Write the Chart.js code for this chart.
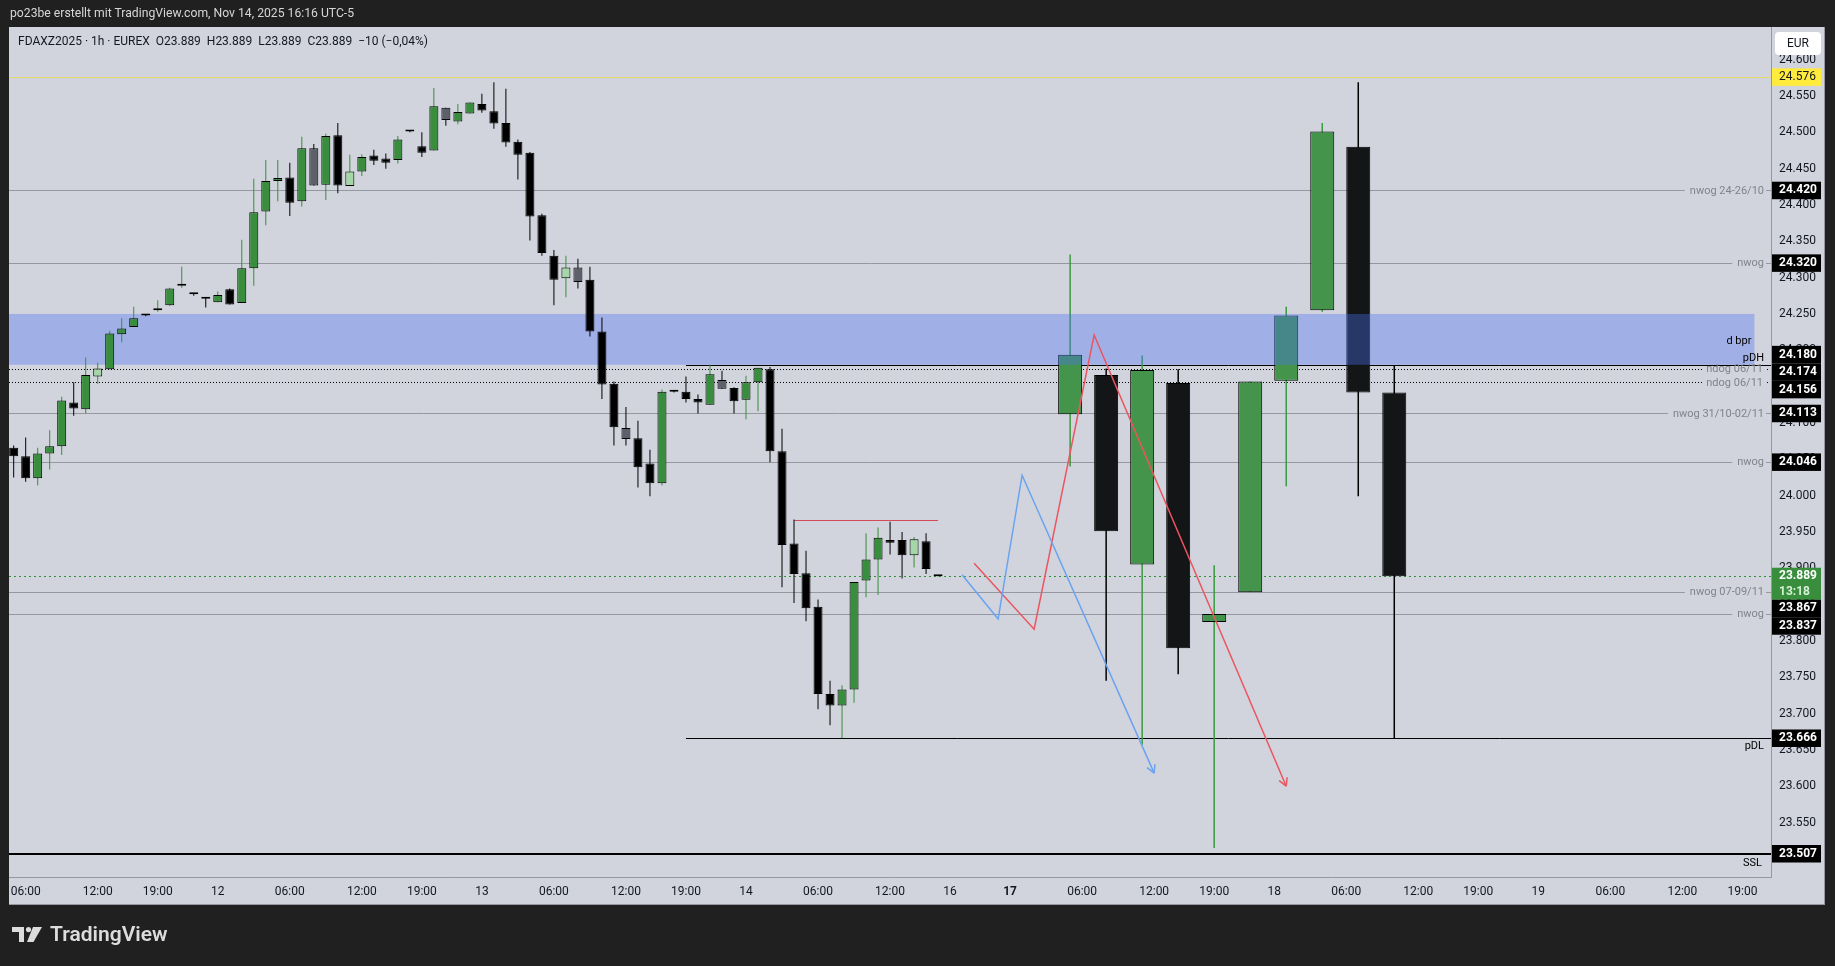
<!DOCTYPE html>
<html>
<head>
<meta charset="utf-8">
<title>FDAXZ2025 1h</title>
<script src="https://cdn.jsdelivr.net/npm/chart.js@4.4.1/dist/chart.umd.min.js"></script>
<style>
  html, body { margin: 0; padding: 0; background: #202020; overflow: hidden; }
  #box { position: relative; width: 1835px; height: 966px; }
  #chart { position: absolute; left: 0; top: 0; }
  .txt { position: absolute; white-space: pre; font-family: Roboto, sans-serif; }
  #title { left: 10px; top: 6px; font-size: 12.2px; color: #d6d6d6; }
  #legend { left: 18px; top: 34px; font-size: 12px; color: #131722; }
  #logo { left: 12px; top: 922px; font-size: 21px; font-weight: 600; color: #dcdcdc; display: flex; align-items: center; }
  #logo svg { margin-right: 8px; }
</style>
</head>
<body>
<div id="box">
  <canvas id="chart" width="1835" height="966"></canvas>
  <div class="txt" id="title">po23be erstellt mit TradingView.com, Nov 14, 2025 16:16 UTC-5</div>
  <div class="txt" id="legend">FDAXZ2025 · 1h · EUREX  O23.889  H23.889  L23.889  C23.889  −10 (−0,04%)</div>
  <div class="txt" id="logo"><svg width="30" height="15" viewBox="0 0 30 15"><path d="M0 0H12V15H7V5H0Z" fill="#dcdcdc"/><circle cx="16.5" cy="2.6" r="2.6" fill="#dcdcdc"/><path d="M21 0H30L21.5 15H15Z" fill="#dcdcdc"/></svg>TradingView</div>
</div>
<script>
// hourly bars (UTC-5), bar 0 = Nov 11 06:00, 22 bars per session
const firstBar = -1;
const opens  = [24066,24054,24024,24058,24068,24128,24119,24164,24174,24222,24232,24248,24255,24262,24289,24277,24271,24266,24284,24265,
                24313,24391,24433,24438,24405,24478,24428,24496,24426,24446,24468,24464,24462,24501,24481,24475,24534,24515,24526,24539,
                24529,24513,24487,24472,24386,24330,24299,24314,24297,24226,24154,24093,24079,24044,24017,24143,24143,24133,24125,24159,
                24148,24132,24156,24174,24061,23934,23893,23847,23727,23711,23733,23883,23912,23939,23939,23918,23937,23889];
const highs  = [24069,24080,24066,24090,24136,24156,24190,24183,24227,24244,24260,24249,24269,24286,24315,24278,24272,24281,24285,24352,
                24436,24462,24462,24458,24494,24484,24498,24513,24469,24470,24476,24471,24495,24502,24500,24561,24534,24539,24541,24553,
                24569,24560,24490,24473,24388,24338,24330,24326,24315,24245,24157,24122,24103,24063,24146,24144,24164,24139,24180,24172,
                24149,24165,24176,24177,24092,23967,23924,23857,23745,23739,23881,23948,23956,23964,23950,23943,23948,23889];
const lows   = [24025,24019,24014,24036,24056,24110,24113,24154,24174,24211,24232,24247,24253,24261,24286,24275,24259,24266,24263,24265,
                24289,24372,24405,24385,24398,24427,24407,24416,24426,24440,24455,24450,24457,24500,24466,24475,24509,24511,24526,24527,
                24505,24480,24435,24351,24330,24262,24273,24285,24219,24133,24069,24069,24011,23999,24014,24142,24128,24113,24125,24147,
                24113,24105,24116,24046,23874,23852,23827,23706,23684,23666,23715,23860,23863,23919,23886,23901,23892,23889];
const closes = [24054,24024,24058,24068,24131,24120,24166,24175,24223,24230,24244,24248,24258,24285,24290,24277,24271,24276,24263,24313,
                24390,24433,24437,24403,24478,24427,24495,24427,24446,24466,24461,24458,24490,24501,24472,24536,24517,24528,24541,24530,
                24512,24486,24469,24384,24334,24297,24314,24294,24226,24153,24094,24078,24039,24017,24143,24143,24133,24128,24167,24147,
                24130,24156,24176,24061,23932,23892,23845,23727,23711,23733,23881,23912,23942,23935,23918,23940,23899,23889];
// inside bars highlighted by the indicator
const lightInside = [6, 27, 45, 74];
const grayInside  = [24, 35, 46, 50, 58];

// projected higher-timeframe candles on the right
const htfBar   = [87, 90, 93, 96, 99, 102, 105, 108, 111, 114];
const htfOpen  = [24112, 24166, 23905, 24155, 23826, 23867, 24158, 24255, 24480, 24142];
const htfHigh  = [24332, 24175, 24193, 24174, 23904, 24157, 24260, 24513, 24569, 24179];
const htfLow   = [24040, 23745, 23657, 23754, 23515, 23867, 24013, 24253, 23999, 23666];
const htfClose = [24194, 23951, 24173, 23790, 23837, 24157, 24248, 24501, 24142, 23889];

// time axis
const tickBars = [0, 6, 11, 16, 22, 28, 33, 38, 44, 50, 55, 60, 66, 72, 77, 82, 88, 94, 99, 104, 110, 116, 121, 126, 132, 138, 143];
const tickText = ['06:00','12:00','19:00','12','06:00','12:00','19:00','13','06:00','12:00','19:00','14','06:00','12:00',
                  '16','17','06:00','12:00','19:00','18','06:00','12:00','19:00','19','06:00','12:00','19:00'];

// levels
const gapLevels = [24420, 24320, 24113, 24046, 23867, 23837];
const gapNames  = ['nwog 24-26/10', 'nwog', 'nwog 31/10-02/11', 'nwog', 'nwog 07-09/11', 'nwog'];
const ndogLevels = [24174, 24156];
const ndogNames  = ['ndog 06/11', 'ndog 06/11'];
const pdh = 24180, pdl = 23666, prevDayFrom = 55;
const ssl = 23507;
const markLevel = 24576;
const bprZone = [24180, 24250], bprEnd = 144;
const rangeHigh = 23966, rangeFrom = 64, rangeTo = 76;
const lastPrice = 23889, countdown = '13:18';

// drawn paths
const blueX = [78, 81, 83, 94];
const blueY = [23891, 23830, 24028, 23618];
const redX  = [79, 84, 89, 105];
const redY  = [23907, 23816, 24221, 23600];

const GREEN = '#388e3c';
const bars = opens.map((o, i) => i + firstBar);
const bodyCol = opens.map((o, i) => {
  if (lightInside.includes(bars[i])) return '#a5d6a7';
  if (grayInside.includes(bars[i])) return '#5d606b';
  return closes[i] > o ? GREEN : '#000';
});
const wickCol = opens.map((o, i) => (closes[i] > o || lightInside.includes(bars[i])) ? GREEN : '#000');
const htfBody = htfOpen.map((o, i) => htfClose[i] > o ? '#45944c' : '#141517');
const htfWick = htfOpen.map((o, i) => htfClose[i] > o ? '#3a9a40' : '#000');

const pairs = (xs, a, b) => xs.map((x, i) => ({x: x, y: [a[i], b[i]]}));
const points = (xs, ys) => xs.map((x, i) => ({x: x, y: ys[i]}));
const fmt = v => (v / 1000).toFixed(3);

const px = (c, v) => c.scales.x.getPixelForValue(v);
const py = (c, v) => c.scales.y.getPixelForValue(v);

function hLine(ctx, x1, x2, y, color, width, dash) {
  ctx.save();
  ctx.strokeStyle = color;
  ctx.lineWidth = width;
  ctx.setLineDash(dash || []);
  const yy = Math.round(y) + (width % 2 ? 0.5 : 0);
  ctx.beginPath();
  ctx.moveTo(x1, yy);
  ctx.lineTo(x2, yy);
  ctx.stroke();
  ctx.restore();
}

function layoutTags(tags) {
  tags.sort((a, b) => a.c - b.c);
  for (let it = 0; it < 200; it++) {
    let moved = false;
    for (let i = 1; i < tags.length; i++) {
      const a = tags[i - 1], b = tags[i];
      const need = (a.h + b.h) / 2 - (b.c - a.c);
      if (need > 0.01) {
        moved = true;
        if (a.fixed) b.c += need;
        else if (b.fixed) a.c -= need;
        else { a.c -= need / 2; b.c += need / 2; }
      }
    }
    if (!moved) break;
  }
}

const overlay = {
  id: 'overlay',
  beforeDraw(c) {
    const ctx = c.ctx;
    ctx.save();
    ctx.fillStyle = '#d1d4dc';
    ctx.fillRect(9, 27, 1816, 878);
    ctx.strokeStyle = '#9598a1';
    ctx.lineWidth = 1;
    ctx.beginPath();
    ctx.moveTo(9, 904.5); ctx.lineTo(1825, 904.5);
    ctx.moveTo(1824.5, 27); ctx.lineTo(1824.5, 905);
    ctx.stroke();
    ctx.restore();
  },
  beforeDatasetsDraw(c) {
    const ctx = c.ctx, a = c.chartArea;
    const tr = a.right - 7;
    ctx.save();
    ctx.beginPath();
    ctx.rect(a.left, a.top, a.right - a.left, a.bottom - a.top);
    ctx.clip();
    ctx.font = '11px Roboto';
    hLine(ctx, a.left, a.right, py(c, markLevel), '#e3da6a', 1);
    gapLevels.forEach((v, i) => {
      const y = py(c, v), w = ctx.measureText(gapNames[i]).width;
      hLine(ctx, a.left, tr - w - 5, y, '#9598a1', 1);
      hLine(ctx, tr + 2, a.right, y, '#9598a1', 1);
    });
    ndogLevels.forEach((v, i) => {
      const y = py(c, v), w = ctx.measureText(ndogNames[i]).width;
      hLine(ctx, a.left, tr - w - 5, y, '#000', 1, [1, 2]);
      hLine(ctx, tr + 3, tr + 4, y, '#000', 1);
    });
    hLine(ctx, px(c, prevDayFrom), a.right, py(c, pdh), '#000', 1);
    hLine(ctx, px(c, prevDayFrom), a.right, py(c, pdl), '#000', 1);
    hLine(ctx, a.left, a.right, py(c, ssl), '#000', 2);
    hLine(ctx, px(c, rangeFrom), px(c, rangeTo), py(c, rangeHigh), '#d24b57', 1);
    hLine(ctx, a.left, a.right, py(c, lastPrice), GREEN, 1, [2, 3]);
    ctx.restore();
  },
  afterDatasetDraw(c, args) {
    if (c.data.datasets[args.index].label !== 'htfBody') return;
    const ctx = c.ctx, a = c.chartArea;
    const y1 = py(c, bprZone[1]), y2 = py(c, bprZone[0]), xr = px(c, bprEnd);
    ctx.save();
    ctx.fillStyle = 'rgba(74,115,246,0.366)';
    ctx.fillRect(a.left, y1, xr - a.left, y2 - y1);
    ctx.restore();
  },
  afterDatasetsDraw(c) {
    const ctx = c.ctx, a = c.chartArea;
    const tr = a.right - 7;
    ctx.save();
    ctx.font = '11px Roboto';
    ctx.textAlign = 'right';
    ctx.textBaseline = 'middle';
    ctx.fillStyle = '#80838c';
    gapLevels.forEach((v, i) => ctx.fillText(gapNames[i], tr, py(c, v) + 0.5));
    ndogLevels.forEach((v, i) => ctx.fillText(ndogNames[i], tr - 1, py(c, v) + 0.5));
    ctx.fillStyle = '#000';
    ctx.fillText('d bpr', px(c, bprEnd) - 3, (py(c, bprZone[0]) + py(c, bprZone[1])) / 2 + 2);
    ctx.textBaseline = 'bottom';
    ctx.fillText('pDH', tr, py(c, pdh) - 1);
    ctx.textBaseline = 'top';
    ctx.fillText('pDL', tr, py(c, pdl) + 3);
    ctx.fillText('SSL', tr - 2, py(c, ssl) + 4);

    // arrow heads at the ends of the drawn paths
    c.data.datasets.forEach((ds, i) => {
      if (ds.type !== 'line') return;
      const pts = c.getDatasetMeta(i).data;
      const p1 = pts[pts.length - 2], p2 = pts[pts.length - 1];
      const ang = Math.atan2(p2.y - p1.y, p2.x - p1.x);
      ctx.strokeStyle = ds.borderColor;
      ctx.lineWidth = 1.5;
      ctx.beginPath();
      [-0.5, 0.5].forEach(d => {
        ctx.moveTo(p2.x, p2.y);
        ctx.lineTo(p2.x - 9 * Math.cos(ang + d), p2.y - 9 * Math.sin(ang + d));
      });
      ctx.stroke();
    });
    ctx.restore();
  },
  afterDraw(c) {
    const ctx = c.ctx, a = c.chartArea;
    const tags = [];
    tags.push({v: markLevel, bg: '#ffeb3b', fg: '#131722', h: 17.5});
    gapLevels.forEach(v => tags.push({v: v, h: 17.5}));
    ndogLevels.forEach(v => tags.push({v: v, h: 17.5}));
    tags.push({v: pdh, h: 17.5}, {v: pdl, h: 17.5}, {v: ssl, h: 17.5});
    tags.push({v: lastPrice, bg: GREEN, fg: '#fff', sub: countdown, h: 32, fixed: true});
    tags.forEach(t => { t.c = py(c, t.v) + (t.sub ? 7.5 : 0); });
    layoutTags(tags);
    ctx.save();
    ctx.textBaseline = 'middle';
    ctx.textAlign = 'left';
    tags.forEach(t => {
      const top = t.c - t.h / 2;
      ctx.fillStyle = t.bg || '#000';
      ctx.fillRect(a.right + 1, top, 49, t.h);
      ctx.fillStyle = t.fg || '#fff';
      ctx.font = (t.bg === '#ffeb3b' ? '' : 'bold ') + '12px Roboto';
      ctx.fillText(fmt(t.v), a.right + 8, top + 8.75);
      if (t.sub) {
        ctx.fillStyle = '#d6f0d7';
        ctx.fillText(t.sub, a.right + 8, top + 24);
      }
    });
    // currency button
    ctx.fillStyle = '#fff';
    ctx.beginPath();
    ctx.roundRect(1775, 32, 46, 23, 4);
    ctx.fill();
    ctx.fillStyle = '#131722';
    ctx.font = '12px Roboto';
    ctx.textAlign = 'center';
    ctx.fillText('EUR', 1798, 44);
    ctx.restore();
  }
};

const barBase = {type: 'bar', grouped: false, borderSkipped: false, inflateAmount: 0};

new Chart(document.getElementById('chart'), {
  data: {
    datasets: [
      Object.assign({}, barBase, {label: 'htfWick', data: pairs(htfBar, htfLow, htfHigh), backgroundColor: htfWick,
        barThickness: 1.5, minBarLength: 1, order: 6}),
      Object.assign({}, barBase, {label: 'htfBody', data: pairs(htfBar, htfOpen, htfClose), backgroundColor: htfBody,
        borderColor: '#000', borderWidth: 1, barThickness: 24, minBarLength: 2, order: 5}),
      Object.assign({}, barBase, {label: 'wick', data: pairs(bars, lows, highs), backgroundColor: wickCol,
        barThickness: 1, minBarLength: 1, order: 2}),
      Object.assign({}, barBase, {label: 'body', data: pairs(bars, opens, closes), backgroundColor: bodyCol,
        borderColor: '#000', borderWidth: 1, barThickness: 9, minBarLength: 2, order: 1}),
      {type: 'line', label: 'blue', data: points(blueX, blueY), borderColor: '#6aa3f0', borderWidth: 1.5,
        pointRadius: 0, tension: 0, order: 0},
      {type: 'line', label: 'red', data: points(redX, redY), borderColor: '#ec5560', borderWidth: 1.5,
        pointRadius: 0, tension: 0, order: 0}
    ]
  },
  options: {
    responsive: false,
    animation: false,
    devicePixelRatio: 1,
    layout: {padding: {left: 9, right: 10, top: 27, bottom: 61}},
    plugins: {legend: {display: false}, tooltip: {enabled: false}},
    scales: {
      x: {
        type: 'linear', min: -1.39, max: 145.38, offset: false,
        grid: {display: false, drawTicks: false, offset: false},
        border: {display: true, color: '#9598a1'},
        afterBuildTicks: s => { s.ticks = tickBars.map(v => ({value: v})); },
        afterFit: s => { s.height = 28; },
        ticks: {
          autoSkip: false, maxRotation: 0, padding: 8, color: '#131722',
          font: ctx => ({family: 'Roboto', size: 12, weight: (ctx.tick && ctx.tick.value === 82) ? 'bold' : 'normal'}),
          callback: (v, i) => tickText[i]
        }
      },
      y: {
        type: 'linear', position: 'right', min: 23475, max: 24645,
        grid: {display: false, drawTicks: false},
        border: {display: true, color: '#9598a1'},
        afterBuildTicks: s => {
          const t = [];
          for (let v = 23500; v <= 24600; v += 50) t.push({value: v});
          s.ticks = t;
        },
        afterFit: s => { s.width = 54; },
        ticks: {padding: 8, color: '#131722', font: {family: 'Roboto', size: 12}, callback: v => fmt(v)}
      }
    }
  },
  plugins: [overlay]
});
</script>
</body>
</html>
